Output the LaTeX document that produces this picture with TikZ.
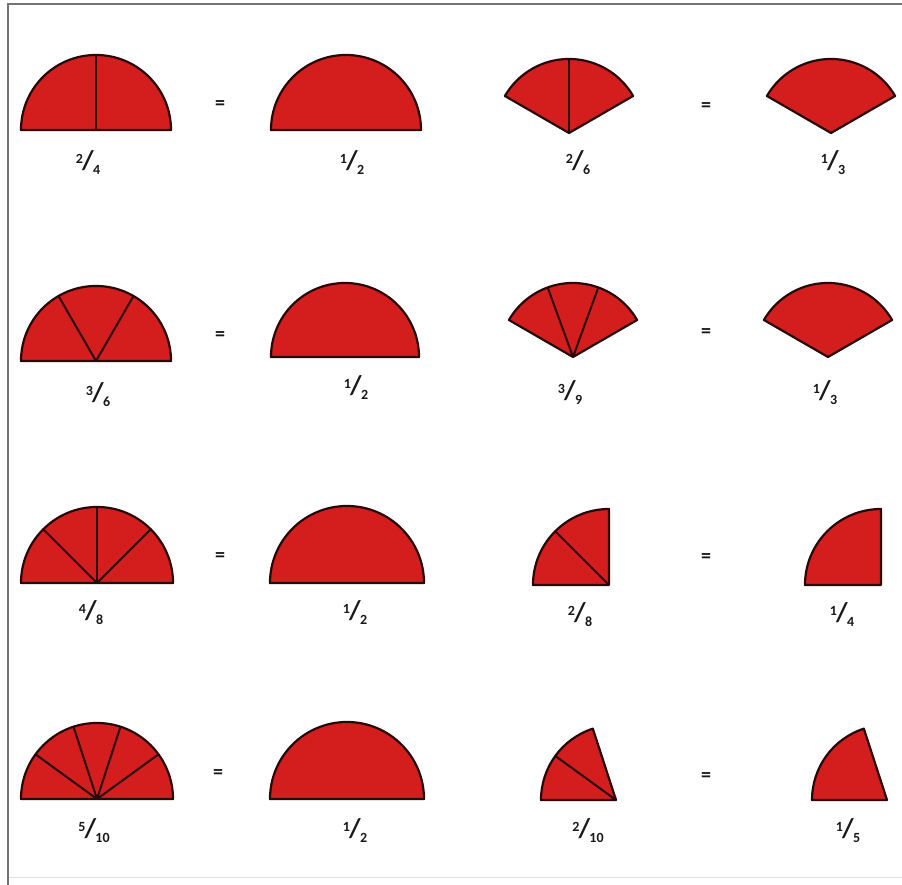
\documentclass[tikz,border=0pt]{standalone}
\usepackage{fontspec}
\setmainfont{Carlito}
\definecolor{fillred}{RGB}{212,30,30}
\definecolor{edge}{RGB}{40,8,8}
\newcommand\fr[2]{\bfseries\raisebox{6pt}{\fontsize{14}{14}\selectfont #1}\kern-0.8pt{\fontsize{27}{27}\selectfont/}\kern-0.8pt\raisebox{-5pt}{\fontsize{14}{14}\selectfont #2}}
% \wedgeshape{cx}{cy}{r}{a1}{a2}{dividers}
\newcommand\wedgeshape[6]{%
  \draw[sec] (#1,885-#2) -- ++(#4:#3) arc[start angle=#4, end angle=#5, radius=#3] -- cycle;
  \foreach \aa in {#6} {\draw[div] (#1,885-#2) -- ++(\aa:#3);}%
}
\tikzset{
  sec/.style={fill=fillred, draw=edge, line width=2.2pt, line join=round},
  div/.style={draw=edge, line width=2pt},
  lbl/.style={inner sep=0pt, text=black!90},
  eqs/.style={inner sep=0pt, font=\bfseries\fontsize{20}{20}\selectfont, text=black!90},
}
\begin{document}
\begin{tikzpicture}[x=1pt,y=1pt]
\useasboundingbox (0,0) rectangle (902,885);
\fill[white] (0,0) rectangle (902,885);
% frame
\draw[black!55, line width=2pt] (902,885-4) -- (8,885-4) -- (8,0);
\draw[black!12, line width=1pt] (9,885-878) -- (902,885-878);
% row 1
\wedgeshape{96}{130}{75}{0}{180}{90}
\wedgeshape{346}{130}{75}{0}{180}{}
\wedgeshape{569}{133}{74}{30}{150}{90}
\wedgeshape{831}{133}{74}{30}{150}{}
% row 2
\wedgeshape{96}{361}{75}{0}{180}{60,120}
\wedgeshape{345}{357}{74}{0}{180}{}
\wedgeshape{573}{357}{74}{30}{150}{70,110}
\wedgeshape{828}{357}{74}{30}{150}{}
% row 3
\wedgeshape{97}{583}{76}{0}{180}{45,90,135}
\wedgeshape{347}{583}{77}{0}{180}{}
\wedgeshape{609}{585}{76}{90}{180}{135}
\wedgeshape{881}{585}{76}{90}{180}{}
% row 4
\wedgeshape{97}{799}{76}{0}{180}{36,72,108,144}
\wedgeshape{347}{799}{77}{0}{180}{}
\wedgeshape{616}{800}{75}{108}{180}{144}
\wedgeshape{887}{800}{75}{108}{180}{}
% equals signs
\node[eqs] (e1) at (220,885-105) {=};
\node[eqs] (e2) at (706,885-107) {=};
\node[eqs] (e3) at (220,885-336) {=};
\node[eqs] (e4) at (706,885-333) {=};
\node[eqs] (e5) at (220,885-557) {=};
\node[eqs] (e6) at (706,885-558) {=};
\node[eqs] (e7) at (218,885-774) {=};
\node[eqs] (e8) at (706,885-777) {=};
% labels
\node[lbl] (l11) at (88,885-163) {\fr{2}{4}};
\node[lbl] (l12) at (352,885-163) {\fr{1}{2}};
\node[lbl] (l13) at (578,885-163) {\fr{2}{6}};
\node[lbl] (l14) at (833,885-163) {\fr{1}{3}};
\node[lbl] (l21) at (98,885-395) {\fr{3}{6}};
\node[lbl] (l22) at (356,885-388) {\fr{1}{2}};
\node[lbl] (l23) at (570,885-393) {\fr{3}{9}};
\node[lbl] (l24) at (825,885-393) {\fr{1}{3}};
\node[lbl] (l31) at (91,885-613) {\fr{4}{8}};
\node[lbl] (l32) at (355,885-613) {\fr{1}{2}};
\node[lbl] (l33) at (580,885-615) {\fr{2}{8}};
\node[lbl] (l34) at (842,885-615) {\fr{1}{4}};
\node[lbl] (l41) at (94,885-831) {\fr{5}{10}};
\node[lbl] (l42) at (355,885-831) {\fr{1}{2}};
\node[lbl] (l43) at (588,885-831) {\fr{2}{10}};
\node[lbl] (l44) at (848,885-831) {\fr{1}{5}};
\end{tikzpicture}
\end{document}
